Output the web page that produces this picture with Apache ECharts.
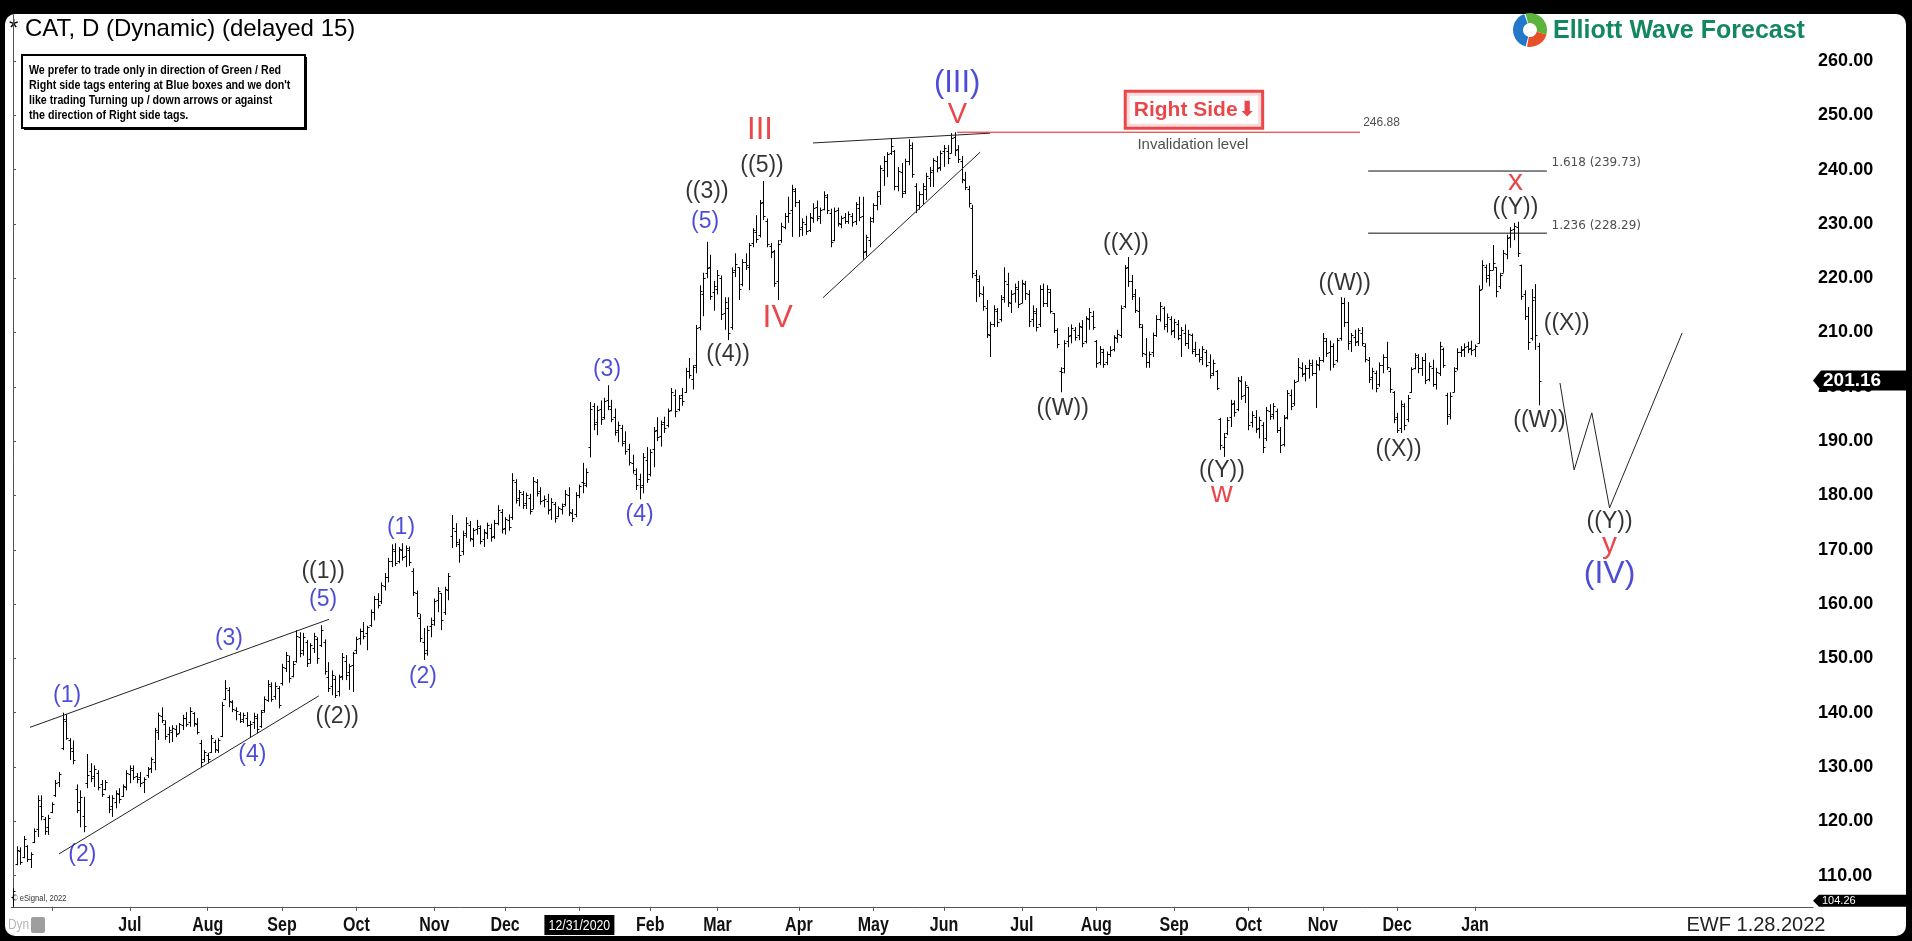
<!DOCTYPE html>
<html><head><meta charset="utf-8">
<script src="https://cdn.jsdelivr.net/npm/echarts@6/dist/echarts.min.js"></script>
<style>
html,body{margin:0;padding:0;background:#000;width:1912px;height:941px;overflow:hidden}
#panel{position:absolute;left:5px;top:14px;width:1901px;height:922px;background:#fff;border-radius:10px}
#chart{position:absolute;left:0;top:0;width:1912px;height:941px}
</style></head><body>
<div id="panel"></div><div id="chart"></div>
<script>
// ---- daily bars [open, high, low, close] per month ----
const bars2020May = [[106.0,107.7,104.26,107.2],[112.2,115.4,111.9,114.8],[114.5,115.2,112.0,112.6],[113.5,117.3,113.2,116.8],[115.4,115.6,112.5,113.1],[113.0,114.3,111.4,113.9],[116.2,118.7,116.0,118.3],[118.5,124.8,117.1,123.9],[122.8,124.8,120.2,121.0],[120.5,120.8,117.5,118.2],[119.0,121.2,117.5,120.7]];
const bars2020Jun = [[121.8,123.5,121.5,123.2],[124.9,127.6,124.5,127.0],[127.2,129.1,126.3,128.8],[133.5,140.0,133.1,138.8],[138.5,139.7,135.0,135.4],[135.0,135.3,131.3,133.5],[133.0,134.9,130.5,131.2],[126.0,126.8,121.5,122.0],[123.5,125.7,118.9,124.5],[121.0,124.5,118.0,119.2],[127.0,132.4,126.1,128.5],[129.2,130.7,127.2,128.0],[128.4,130.3,126.3,129.6],[128.9,129.4,125.7,126.4],[126.8,127.6,124.5,125.1],[126.0,127.6,125.7,127.3],[124.5,124.8,121.5,122.3],[122.8,124.8,120.8,124.3],[123.6,125.7,122.4,125.2],[125.0,126.1,123.3,124.1],[124.7,126.8,124.5,126.5],[126.4,129.4,125.7,128.9]];
const bars2020Jul = [[128.7,130.3,127.0,129.9],[129.5,130.3,127.6,128.1],[128.3,128.9,127.0,127.8],[128.2,129.1,126.3,127.0],[127.2,128.1,125.2,127.8],[128.5,130.0,128.0,129.6],[129.8,131.8,128.9,131.4],[131.0,137.2,129.4,136.8],[136.5,140.0,135.0,139.5],[139.4,141.0,138.1,138.7],[137.9,138.6,135.0,135.8],[136.0,137.4,134.4,136.9],[136.4,137.7,134.6,137.2],[137.0,137.7,135.5,136.0],[136.3,138.1,136.2,137.9],[137.8,139.6,136.8,139.1],[139.0,140.1,137.4,138.0],[138.3,141.0,137.4,140.4],[140.0,140.1,137.4,138.1],[138.0,139.0,136.0,136.4],[134.5,135.0,130.0,131.0],[131.5,133.1,130.9,132.8]];
const bars2020Aug = [[132.2,132.6,130.7,131.4],[132.8,135.9,132.6,135.4],[134.6,135.0,132.6,133.4],[133.2,135.3,132.6,135.0],[135.8,142.0,135.5,141.5],[142.5,146.0,142.3,144.6],[144.2,144.7,141.0,142.1],[142.0,142.3,140.1,140.6],[140.5,141.0,138.6,140.4],[139.8,140.1,138.1,138.5],[138.8,140.0,138.1,139.6],[139.0,140.1,137.4,137.8],[137.8,138.5,135.5,137.9],[138.2,140.0,137.0,139.4],[139.0,139.8,136.2,137.0],[137.5,140.5,137.2,140.1],[140.5,143.0,140.0,142.6],[142.4,146.0,142.0,145.2],[145.0,145.6,142.0,142.6],[143.0,145.6,142.4,145.0],[144.6,144.9,140.8,141.5]];
const bars2020Sep = [[145.5,149.0,145.0,148.5],[148.2,151.2,147.5,150.6],[149.5,150.5,145.5,146.3],[146.8,149.5,146.5,149.0],[149.6,155.2,149.2,154.2],[154.0,154.8,150.2,151.0],[151.5,154.7,150.5,153.9],[153.0,153.4,148.4,149.2],[149.8,152.8,149.0,152.4],[152.0,154.7,151.0,154.1],[153.5,153.9,149.0,150.0],[152.5,156.1,152.1,155.3],[153.0,153.5,147.0,147.6],[146.5,149.3,143.8,144.6],[145.0,147.8,143.2,147.0],[146.2,146.8,142.7,143.3],[144.0,147.0,143.0,146.5],[146.8,151.0,146.0,150.2],[149.5,150.6,146.0,146.9],[147.5,149.0,144.2,148.6],[148.8,151.2,143.8,150.9]];
const bars2020Oct = [[151.5,154.0,150.8,153.6],[153.8,155.5,152.5,155.0],[155.0,156.7,153.5,154.2],[154.6,156.0,151.5,155.7],[156.2,159.0,155.8,158.6],[158.5,161.5,157.0,160.9],[161.0,162.0,159.2,159.8],[160.5,164.0,160.0,163.5],[163.4,165.7,162.5,164.9],[165.0,168.5,164.0,167.9],[168.0,171.0,166.8,170.2],[169.8,171.2,167.0,167.6],[168.0,170.5,167.5,170.1],[170.0,171.2,168.0,168.6],[168.8,170.8,166.8,170.3],[170.0,170.6,167.0,167.8],[166.0,166.6,161.5,162.2],[162.0,162.5,157.6,158.3],[157.5,158.2,153.0,153.8],[153.0,155.6,149.7,151.0],[151.5,156.0,150.5,155.2],[156.0,157.5,153.9,156.4]];
const bars2020Nov = [[157.0,161.0,156.0,160.5],[160.8,163.1,158.5,162.4],[162.0,162.0,155.2,157.0],[158.5,163.2,158.0,162.8],[162.5,165.7,160.7,165.2],[172.5,176.4,170.3,174.0],[173.5,174.9,170.5,171.4],[171.0,172.0,167.6,169.0],[169.8,173.5,169.0,172.8],[173.0,176.0,172.2,175.0],[174.5,175.3,171.5,172.2],[172.0,174.0,170.5,173.6],[173.8,175.5,172.8,174.4],[174.0,174.5,171.0,171.7],[172.0,173.8,170.5,173.3],[173.0,175.0,172.0,174.5],[174.0,174.8,171.5,172.4],[172.5,175.5,172.0,175.0],[175.0,178.2,174.5,177.4],[177.0,177.5,173.0,173.8]];
const bars2020Dec = [[174.0,176.0,172.8,175.6],[175.5,176.5,173.5,174.2],[176.0,184.1,175.5,182.8],[182.5,183.0,178.5,179.2],[179.5,181.0,178.0,180.6],[180.2,180.8,177.5,178.3],[178.6,180.5,177.5,180.0],[179.5,180.3,176.5,177.2],[177.5,183.4,177.5,182.7],[182.5,183.0,179.8,180.4],[180.8,181.5,178.3,179.0],[179.2,180.0,177.8,179.4],[179.0,180.3,176.5,177.3],[177.5,179.5,175.5,178.8],[178.5,178.8,175.0,175.9],[176.2,178.0,176.0,177.6],[177.5,178.5,176.5,178.0],[178.5,181.0,178.0,180.2],[180.0,181.5,176.2,177.0],[176.8,177.5,175.1,175.8],[176.5,180.6,176.0,180.1],[180.0,182.0,179.5,181.8]];
const bars2021Jan = [[182.5,186.0,180.4,182.3],[182.0,185.0,181.5,184.4],[189.0,197.2,187.0,196.0],[196.5,197.0,192.0,193.2],[193.5,196.5,191.1,195.8],[196.0,197.5,193.0,194.0],[194.5,198.0,194.0,197.3],[197.5,200.3,195.7,196.4],[196.0,197.6,193.5,194.1],[194.5,196.0,191.0,191.6],[192.0,193.6,189.8,193.0],[192.5,193.0,189.0,189.7],[190.0,191.8,187.5,188.2],[188.5,189.5,185.5,186.2],[186.0,187.5,184.0,184.6],[184.0,185.0,181.0,182.0],[183.0,184.0,179.3,181.5],[182.0,187.8,180.4,187.0],[186.5,188.9,182.3,183.0]];
const bars2021Feb = [[184.0,188.5,183.5,188.0],[188.5,192.6,185.2,191.9],[192.0,194.4,190.0,190.8],[191.0,193.8,189.0,193.2],[193.5,194.5,191.5,192.5],[193.0,196.0,192.5,195.5],[195.8,199.8,195.5,199.0],[198.5,199.5,194.4,195.5],[196.0,198.5,195.5,198.0],[198.5,199.8,196.5,197.3],[199.0,203.5,198.9,203.0],[203.0,205.3,201.5,202.2],[201.5,204.0,199.5,203.6],[204.0,211.4,202.5,210.8],[211.0,218.7,210.4,217.6],[217.0,221.0,213.0,220.1],[221.0,226.7,220.0,221.8],[222.0,224.3,216.0,216.8],[217.5,219.5,214.0,218.6]];
const bars2021Mar = [[218.0,221.5,217.0,220.6],[220.0,220.5,212.3,213.4],[213.5,216.5,210.5,215.6],[214.5,216.5,208.6,210.0],[211.0,222.0,210.5,221.2],[221.5,224.6,220.2,222.6],[222.0,222.0,216.0,218.0],[219.0,223.5,218.5,223.0],[223.0,224.6,221.5,222.4],[222.0,226.5,217.8,226.1],[226.5,229.2,225.7,228.9],[228.5,231.6,226.5,227.2],[228.0,234.4,227.5,233.9],[234.0,237.9,230.7,231.4],[230.5,231.0,225.7,226.3],[226.0,226.5,223.7,224.8],[225.0,225.2,218.4,219.2],[219.5,227.0,216.0,226.3],[227.0,230.2,226.5,229.7],[229.5,232.0,229.0,231.5],[231.5,235.0,230.2,232.0],[232.5,237.2,227.6,236.4],[236.0,236.6,233.1,234.0]];
const bars2021Apr = [[234.0,234.4,227.6,229.0],[229.5,231.0,227.8,230.4],[230.0,231.5,228.0,228.6],[228.8,232.0,228.5,231.2],[231.0,233.8,230.2,233.0],[233.2,234.3,230.5,231.0],[231.5,233.0,230.0,232.6],[232.8,236.0,232.5,235.3],[235.0,235.5,231.8,232.5],[232.0,232.8,225.7,226.6],[227.0,233.0,226.8,232.4],[232.5,233.0,229.5,230.1],[230.0,231.5,229.2,231.0],[231.2,232.0,230.0,230.5],[230.6,232.3,230.0,231.8],[231.5,232.0,229.5,230.4],[230.5,234.0,229.8,233.6],[233.0,235.0,230.5,231.2],[231.5,235.0,223.4,224.8],[225.0,228.0,224.0,227.5],[227.0,231.3,225.7,230.6]];
const bars2021May = [[231.0,233.8,230.2,233.5],[233.5,236.0,232.5,235.2],[236.0,240.8,233.5,240.2],[240.0,242.5,237.0,241.6],[241.5,243.2,238.6,242.8],[243.0,245.8,242.7,244.4],[243.5,243.6,236.2,237.0],[237.0,240.5,236.0,239.8],[239.5,241.2,234.8,235.6],[236.0,242.0,235.5,241.5],[241.5,245.6,240.8,244.6],[244.0,245.0,238.5,239.2],[237.0,237.5,232.0,233.4],[233.5,236.0,232.6,235.5],[235.5,237.5,233.5,236.9],[236.5,239.4,234.4,238.8],[238.5,240.5,236.8,239.6],[240.0,242.1,236.8,241.7],[241.5,242.5,239.5,240.2],[240.5,243.5,239.8,243.1]];
const bars2021Jun = [[243.5,244.5,240.5,244.0],[243.5,244.5,241.0,242.2],[243.0,246.7,243.0,245.8],[246.0,246.88,242.5,243.6],[243.8,244.5,241.2,242.0],[241.5,242.5,237.5,238.2],[238.0,239.6,236.2,236.8],[236.5,237.0,233.0,233.8],[233.0,233.5,220.0,221.0],[220.5,221.5,215.6,219.8],[219.5,220.5,216.5,217.2],[217.0,218.5,214.0,214.8],[214.5,216.0,209.0,209.8],[209.5,212.0,205.5,211.6],[211.5,215.0,211.0,214.3],[214.0,214.5,211.0,212.0],[212.5,216.9,212.0,216.2],[216.5,222.0,215.5,219.5],[219.0,221.0,214.7,215.6],[215.5,217.8,213.6,217.0],[217.2,219.0,215.5,218.4],[218.0,219.5,214.5,215.2]];
const bars2021Jul = [[215.5,219.7,215.4,219.2],[219.0,219.5,216.0,217.3],[217.0,217.8,211.0,212.2],[212.5,215.0,211.0,214.0],[213.5,214.5,210.2,211.0],[211.5,218.7,211.0,218.1],[218.0,219.0,214.7,215.4],[215.5,218.7,214.7,218.0],[217.5,218.0,213.5,214.0],[213.5,213.6,209.9,210.5],[210.5,210.8,207.1,207.8],[203.0,203.6,199.0,202.8],[203.5,208.6,202.5,208.0],[208.5,211.0,207.3,209.4],[209.5,211.5,208.0,210.8],[210.5,211.0,208.5,209.1],[209.5,211.8,208.6,211.2],[211.0,212.3,207.3,208.0],[208.5,213.0,208.0,212.6],[212.5,214.5,210.5,213.8],[213.0,214.0,210.5,211.0]];
const bars2021Aug = [[208.5,208.6,203.5,204.4],[204.5,207.5,204.0,207.0],[206.5,207.0,203.5,204.2],[204.5,206.5,204.0,206.0],[206.0,207.5,205.5,206.8],[207.0,209.5,206.5,209.2],[209.0,210.5,208.1,209.8],[209.5,215.0,209.0,214.5],[214.8,222.4,214.5,221.8],[222.0,223.9,218.4,219.5],[219.5,220.6,216.0,216.8],[217.0,218.0,213.6,214.2],[214.0,216.5,210.8,211.5],[211.0,211.5,205.5,206.3],[206.0,209.0,203.5,204.6],[204.5,206.5,203.5,206.0],[206.5,210.0,205.5,209.5],[209.5,213.2,209.2,212.4],[212.5,215.6,212.0,214.8],[214.5,214.8,210.5,211.2],[211.5,213.5,210.0,212.8],[212.5,213.0,209.5,210.2]];
const bars2021Sep = [[210.5,212.5,209.0,211.9],[211.5,212.3,208.6,209.0],[209.5,211.0,205.5,210.5],[210.0,211.5,207.5,208.1],[208.0,210.5,207.0,209.7],[209.5,209.8,206.0,206.6],[207.0,208.3,205.5,206.0],[206.0,207.0,204.5,205.2],[205.5,207.5,204.0,206.9],[206.5,206.8,203.6,204.0],[204.5,206.0,201.5,202.2],[202.5,205.0,202.0,204.4],[203.0,203.1,199.4,199.8],[194.0,194.3,188.4,189.2],[189.0,191.5,187.1,190.8],[191.5,194.4,191.1,193.9],[194.5,197.6,192.6,196.8],[197.0,197.5,194.5,195.3],[196.0,201.8,195.5,201.2],[201.0,202.0,197.6,198.4],[198.5,201.0,197.0,200.4]];
const bars2021Oct = [[200.0,200.0,192.0,193.0],[193.5,195.5,192.5,194.9],[194.5,195.7,191.5,192.2],[192.5,194.5,190.5,193.8],[193.0,193.5,187.8,189.0],[190.5,196.3,190.0,195.8],[195.5,196.8,193.9,194.6],[195.0,197.0,194.0,196.4],[195.5,196.0,191.5,192.0],[192.0,192.6,187.8,189.2],[189.5,194.8,189.0,194.2],[194.5,199.4,194.0,198.8],[198.5,199.5,195.7,196.4],[197.0,201.3,196.5,200.8],[201.0,205.3,201.0,203.6],[203.5,204.5,201.8,202.4],[202.5,204.0,201.0,203.5],[203.5,205.0,201.5,204.4],[204.0,205.0,202.0,202.6],[202.5,204.9,196.1,204.2],[204.0,205.5,203.0,204.9]];
const bars2021Nov = [[205.0,209.9,204.5,209.0],[208.5,209.0,205.5,206.2],[206.5,208.5,203.0,207.6],[207.5,208.0,203.5,204.2],[205.0,209.0,204.5,208.6],[209.0,216.5,208.5,215.4],[215.5,216.4,211.0,212.0],[212.0,215.6,206.8,208.0],[208.5,209.9,206.4,209.5],[209.2,210.5,207.5,208.2],[208.5,210.8,207.5,210.4],[210.0,211.0,207.5,208.0],[207.5,208.0,204.5,205.2],[205.0,205.5,200.7,201.5],[201.8,203.5,199.5,203.0],[202.5,203.0,199.0,199.8],[200.5,204.5,200.0,204.0],[204.0,206.0,202.5,205.5],[205.5,208.3,203.1,203.6],[203.0,203.5,198.9,199.6],[199.0,199.2,193.3,194.0]];
const bars2021Dec = [[194.5,195.2,191.5,192.0],[192.5,197.5,191.5,196.8],[196.5,197.0,192.0,193.0],[194.0,198.5,193.5,198.0],[199.0,203.6,198.9,203.2],[203.5,206.2,203.2,205.8],[205.5,206.0,202.5,203.4],[203.5,205.5,202.0,205.0],[205.0,206.2,200.5,201.3],[201.5,204.5,201.0,203.8],[203.5,205.0,200.0,200.6],[200.5,203.5,199.5,202.8],[202.5,208.3,202.0,207.5],[207.0,207.2,203.5,204.0],[198.5,198.9,193.0,194.6],[195.0,199.0,194.0,198.4],[199.0,203.6,199.0,203.0],[203.5,207.1,203.0,206.4],[206.5,207.5,205.5,206.8],[207.0,208.0,205.5,207.3],[207.5,208.3,206.2,207.0],[207.2,208.5,205.8,206.7]];
const bars2022Jan = [[207.0,207.8,205.5,207.5],[208.0,218.7,208.0,217.8],[218.0,223.3,218.0,222.4],[222.0,222.5,219.2,220.0],[220.5,222.8,218.5,221.6],[221.5,226.1,221.5,222.8],[222.0,222.0,216.5,217.6],[218.5,221.0,218.0,220.6],[221.0,225.2,221.0,224.6],[224.5,228.0,223.5,227.4],[227.5,229.4,225.6,228.9],[229.0,230.2,227.0,229.6],[229.5,230.4,223.9,224.6],[222.5,222.5,216.0,216.8],[217.0,217.8,212.3,213.0],[213.0,214.7,206.8,208.2],[209.0,218.0,208.5,216.0],[216.5,218.9,206.8,209.5],[207.5,208.1,196.6,201.16]];

const monthBlocks = [bars2020May,bars2020Jun,bars2020Jul,bars2020Aug,bars2020Sep,bars2020Oct,bars2020Nov,bars2020Dec,bars2021Jan,bars2021Feb,bars2021Mar,bars2021Apr,bars2021May,bars2021Jun,bars2021Jul,bars2021Aug,bars2021Sep,bars2021Oct,bars2021Nov,bars2021Dec,bars2022Jan];
// label shown at the first bar of each block (null = no tick, '' = tick only)
const monthLabels = [null,'','Jul','Aug','Sep','Oct','Nov','Dec','12/31/2020','Feb','Mar','Apr','May','Jun','Jul','Aug','Sep','Oct','Nov','Dec','Jan'];
const yTicks = [110,120,130,140,150,160,170,180,190,200,210,220,230,240,250,260];
const lastPrice = 201.16;
const axisMin = 104.26;
const axisMax = 268.46;
const totalSlots = 509; // trading-day slots incl. empty future space

// wave labels: text, bar index, price, colour key, font size
const waveText  = ['(1)','(2)','(3)','(4)','(5)','((1))','((2))','(1)','(2)','(3)','(4)','(5)','((3))','((4))','III','((5))','IV','(III)','V','((W))','((X))','((Y))','w','((W))','((X))','((Y))','x','((X))','((W))','((Y))','y','(IV)'];
const waveIdx   = [15.3,19.6,61,67.6,87.6,87.6,91.6,109.6,115.8,167.8,177,195.5,196,202,211,211.6,216,266.7,266.8,296.5,314.4,341.5,341.5,376.2,391.4,424.4,424.4,438.9,431.2,451,451,451];
const wavePrice = [143.2,113.8,153.7,132.2,160.8,165.9,139.2,174.1,146.6,203.2,176.5,230.4,236.0,205.9,247.2,240.8,212.7,255.8,250.0,195.9,226.3,184.6,180.3,219.0,188.4,233.0,237.7,211.7,193.7,175.1,171.0,165.5];
const waveColor = ['b','b','b','b','b','k','k','b','b','b','b','b','k','k','r','k','r','b','r','k','k','k','r','k','k','k','r','k','k','k','r','b'];
const waveSize  = [23,23,23,23,23,23,23,23,23,23,23,23,23,23,31,23,32,31,29,23,23,23,30,23,23,23,30,23,23,23,30,32];

// drawn lines: [index, price] pairs
const wedgeUpper = [[4.8,137.3],[89.3,157.2]];
const wedgeLower = [[13,114.0],[86.4,143.1]];
const diagUpper  = [[226,244.9],[276,246.7]];
const diagLower  = [[228.8,216.4],[273.2,243.2]];
const invalidLine = [[266.7,246.88],[380.5,246.88]];
const fib1618 = [[382.8,239.73],[433.3,239.73]];
const fib1236 = [[382.8,228.29],[433.3,228.29]];
const projection = [[437,200.7],[441,184.7],[446,195.2],[451,177.7],[471.5,209.9]];

// ---- build ----
const ohlc = [];
const blockStarts = [];
let n = 0;
monthBlocks.forEach(b => { blockStarts.push(n); b.forEach(r => { ohlc.push([n, r[0], r[1], r[2], r[3]]); n++; }); });
const tickIdx = [];
blockStarts.forEach((s, k) => { const lab = monthLabels[k]; if (lab === null) return; tickIdx.push(lab === '12/31/2020' ? s - 1 : s); });

const FONT = "'Liberation Sans', Arial, Helvetica, sans-serif";
const colors = {b:'#1f1fcc', k:'#000000', r:'#e3191c'};
const chart = echarts.init(document.getElementById('chart'));

function lineSeries(data, color) {
  return {type:'line', data, symbol:'none', silent:true, z:4, animation:false,
          lineStyle:{color, width:1}};
}
const labelData = waveText.map((t, k) => ({
  value:[waveIdx[k], wavePrice[k]],
  label:{show:true, position:'inside', formatter:t, color:colors[waveColor[k]], fontSize:waveSize[k], fontFamily:FONT}
}));
labelData.push(
  {value:[333.6, 251.0], label:{show:true, position:'inside', formatter:'{t|Right Side}{a|⬇}',
     borderColor:'#e3191c', borderWidth:3, padding:[7,5,6,7], backgroundColor:'#fff',
     rich:{t:{color:'#e3191c', fontSize:21, fontWeight:'bold', fontFamily:FONT},
           a:{color:'#e3191c', fontSize:21, fontWeight:'bold', fontFamily:"'DejaVu Sans', sans-serif", padding:[0,0,0,1]}}}},
  {value:[333.3, 244.6], label:{show:true, position:'inside', formatter:'Invalidation level', color:'#222', fontSize:15, fontFamily:FONT}},
  {value:[381.4, 248.6], label:{show:true, position:'right', distance:0, formatter:'246.88', color:'#222', fontSize:12, fontFamily:FONT}},
  {value:[434.6, 241.2], label:{show:true, position:'right', distance:0, formatter:'1.618 (239.73)', color:'#222', fontSize:12, fontFamily:"'DejaVu Sans', sans-serif"}},
  {value:[434.6, 229.7], label:{show:true, position:'right', distance:0, formatter:'1.236 (228.29)', color:'#222', fontSize:12, fontFamily:"'DejaVu Sans', sans-serif"}}
);

const option = {
  animation:false,
  backgroundColor:'transparent',
  grid:{left:11.23, right:98.9, top:15, bottom:34.2},
  xAxis:{type:'value', min:-0.5, max:totalSlots-0.5,
    axisLine:{show:true, onZero:false, lineStyle:{color:'#555', width:1}},
    axisTick:{show:true, customValues:tickIdx, length:4, lineStyle:{color:'#555'}},
    axisLabel:{show:false}, splitLine:{show:false}},
  yAxis:{type:'value', position:'right', min:axisMin, max:axisMax,
    axisLine:{show:true, lineStyle:{color:'#555', width:1}},
    axisTick:{show:true, customValues:yTicks, length:3, lineStyle:{color:'#555'}},
    axisLabel:{show:true, customValues:yTicks, formatter:v => v.toFixed(2), margin:5,
      color:'#000', fontSize:18, fontWeight:'bold', fontFamily:FONT},
    splitLine:{show:false}},
  series:[
    {type:'custom', data:ohlc, encode:{x:0, y:[1,2,3,4]}, z:3, clip:true,
     renderItem:(params, api) => {
       const i = api.value(0);
       const pH = api.coord([i, api.value(2)]), pL = api.coord([i, api.value(3)]);
       const pO = api.coord([i, api.value(1)]), pC = api.coord([i, api.value(4)]);
       const x = Math.round(pH[0]) + 0.5;
       const yo = Math.round(pO[1]) + 0.5, yc = Math.round(pC[1]) + 0.5;
       const st = {stroke:'#000', lineWidth:1};
       return {type:'group', children:[
         {type:'line', shape:{x1:x, y1:pH[1], x2:x, y2:pL[1]}, style:st},
         {type:'line', shape:{x1:x-2, y1:yo, x2:x, y2:yo}, style:st},
         {type:'line', shape:{x1:x, y1:yc, x2:x+2, y2:yc}, style:st}
       ]};
     }},
    lineSeries(wedgeUpper, '#222'),
    lineSeries(wedgeLower, '#222'),
    lineSeries(diagUpper, '#222'),
    lineSeries(diagLower, '#222'),
    lineSeries(invalidLine, '#e3191c'),
    lineSeries(fib1618, '#111'),
    lineSeries(fib1236, '#111'),
    lineSeries(projection, '#222'),
    {type:'scatter', symbolSize:0, data:labelData, z:6, silent:true}
  ]
};
chart.setOption(option);

// ---- decorations (texts, tags, logo) ----
const g = [];
g.push({type:'text', x:9, y:29, style:{text:'* CAT, D (Dynamic) (delayed 15)', fontSize:24, fontFamily:FONT, fill:'#000', verticalAlign:'middle'}});
// note box
g.push({type:'rect', shape:{x:24, y:57, width:283, height:73}, style:{fill:'#000'}});
g.push({type:'rect', shape:{x:22, y:55, width:283, height:73}, style:{fill:'#fff', stroke:'#000', lineWidth:2}});
['We prefer to trade only in direction of Green / Red',
 "Right side tags entering at Blue boxes and we don't",
 'like trading Turning up / down arrows or against',
 'the direction of Right side tags.'].forEach((t, k) => {
  g.push({type:'text', x:29, y:70 + k*15, scaleX:0.82, style:{text:t, fontSize:13, fontWeight:'bold', fontFamily:FONT, fill:'#000', verticalAlign:'middle'}});
});
// logo
const cx = 1530, cy = 30, D = Math.PI/180;
g.push({type:'sector', shape:{cx, cy, r:17, r0:7, startAngle:105*D, endAngle:250*D}, style:{fill:'#2478c9'}});
g.push({type:'sector', shape:{cx, cy, r:17, r0:7, startAngle:255*D, endAngle:375*D}, style:{fill:'#5db33c'}});
g.push({type:'sector', shape:{cx, cy, r:17, r0:7, startAngle:15*D, endAngle:100*D}, style:{fill:'#e8502a'}});
g.push({type:'text', x:1553, y:31, style:{text:'Elliott Wave Forecast', fontSize:25, fontWeight:'bold', fontFamily:FONT, fill:'#13875d', verticalAlign:'middle'}});
// x axis labels
blockStarts.forEach((s, k) => {
  const lab = monthLabels[k];
  if (!lab) return;
  const idx = lab === '12/31/2020' ? s - 1 : s;
  const px = chart.convertToPixel({xAxisIndex:0}, idx);
  if (lab === '12/31/2020') {
    g.push({type:'rect', shape:{x:px-35, y:915, width:70, height:20}, style:{fill:'#000'}});
    g.push({type:'text', x:px, y:925.5, scaleX:0.82, style:{text:lab, fontSize:15, fontFamily:FONT, fill:'#fff', align:'center', verticalAlign:'middle'}});
  } else {
    g.push({type:'text', x:px, y:925, scaleX:0.8, style:{text:lab, fontSize:20, fontWeight:'bold', fontFamily:FONT, fill:'#111', align:'center', verticalAlign:'middle'}});
  }
});
g.push({type:'text', x:1756, y:925, style:{text:'EWF 1.28.2022', fontSize:20, fontFamily:FONT, fill:'#222', align:'center', verticalAlign:'middle'}});
g.push({type:'text', x:8, y:925, scaleX:0.85, style:{text:'Dyn', fontSize:14, fontFamily:FONT, fill:'#b5b5b5', verticalAlign:'middle'}});
g.push({type:'rect', shape:{x:31, y:917, width:14, height:16, r:2}, style:{fill:'#9e9e9e'}});
g.push({type:'text', x:12, y:899, scaleX:0.85, style:{text:'© eSignal, 2022', fontSize:9, fontFamily:FONT, fill:'#333', verticalAlign:'middle'}});
// price tags on the right axis
const axX = 1813;
const yLast = chart.convertToPixel({yAxisIndex:0}, lastPrice);
g.push({type:'polygon', shape:{points:[[axX,yLast],[axX+8,yLast-10],[1906,yLast-10],[1906,yLast+10],[axX+8,yLast+10]]}, style:{fill:'#000'}, z:50});
g.push({type:'text', x:axX+10, y:yLast+0.5, z:51, style:{text:lastPrice.toFixed(2), fontSize:19, fontWeight:'bold', fontFamily:FONT, fill:'#fff', verticalAlign:'middle'}});
const yMin = chart.convertToPixel({yAxisIndex:0}, axisMin);
g.push({type:'polygon', shape:{points:[[axX,yMin-6],[axX+6,yMin-12],[1906,yMin-12],[1906,yMin],[axX+6,yMin]]}, style:{fill:'#000'}, z:50});
g.push({type:'text', x:axX+9, y:yMin-5.5, z:51, style:{text:axisMin.toFixed(2), fontSize:11, fontFamily:FONT, fill:'#fff', verticalAlign:'middle'}});
chart.setOption({graphic:g});
</script></body></html>
